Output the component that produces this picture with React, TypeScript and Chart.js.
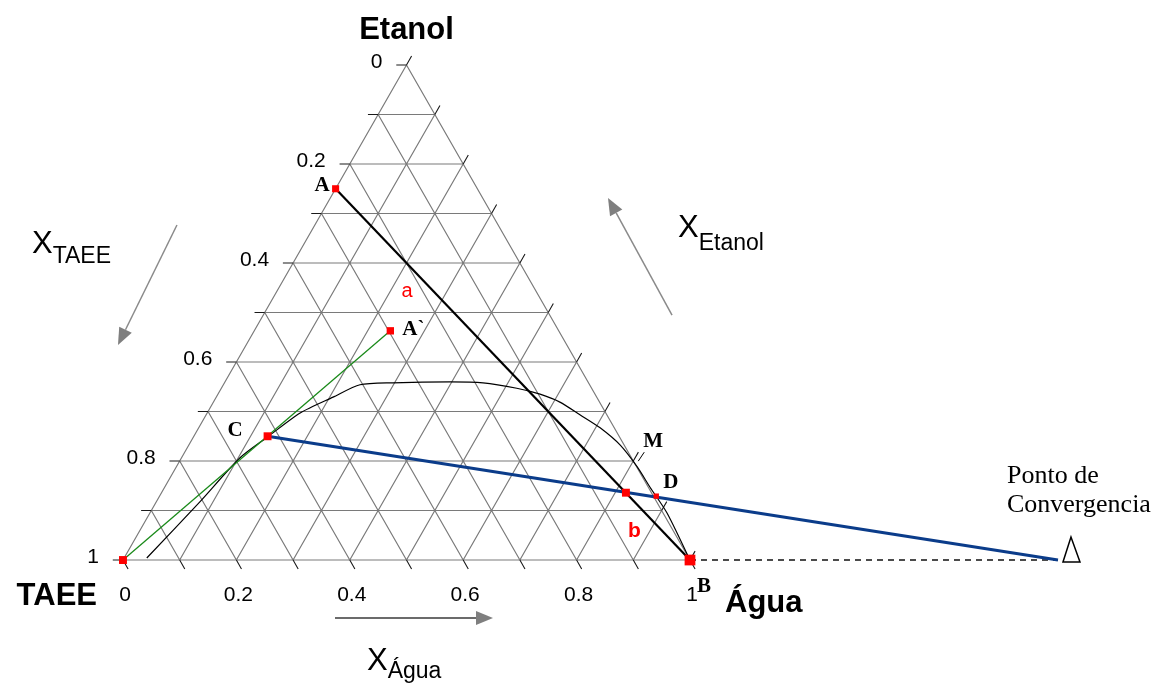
import React, { useEffect, useRef } from "react";
import { Chart, registerables } from "chart.js";

Chart.register(...registerables);

// ---- data (compositions: xÁgua, xEtanol; xTAEE = 1 - xÁgua - xEtanol) ----
const gridFractions = [0, 0.1, 0.2, 0.3, 0.4, 0.5, 0.6, 0.7, 0.8, 0.9, 1];
const tickLabelValues = [0, 0.2, 0.4, 0.6, 0.8, 1];
const tickLabelTexts = ["0", "0.2", "0.4", "0.6", "0.8", "1"];

const binodalAgua = [0.04, 0.077, 0.103, 0.131, 0.164, 0.206, 0.241, 0.297, 0.397, 0.456, 0.521, 0.568, 0.611, 0.66, 0.708, 0.761, 0.813, 0.856, 0.912, 1.0];
const binodalEtanol = [0.004, 0.118, 0.206, 0.249, 0.297, 0.329, 0.354, 0.358, 0.36, 0.358, 0.347, 0.335, 0.319, 0.293, 0.267, 0.232, 0.188, 0.147, 0.095, 0];

const pointNames = ["TAEE", "A", "A`", "C", "Mix", "D", "B"];
const pointAgua = [0, 0, 0.24, 0.13, 0.819, 0.876, 1];
const pointEtanol = [0, 0.75, 0.463, 0.25, 0.136, 0.129, 0];

const convergenceAgua = 1.649;
const convergenceEtanol = 0;

const vertexNames = ["TAEE", "Água", "Etanol"];
const axisTitleSubs = ["TAEE", "Etanol", "Água"];

// ---- helpers ----
const T = (w: number, e: number) => ({ x: w + e / 2, y: e });
const GAP = { x: NaN, y: NaN };
const TICK = 0.018;

function segs(list: Array<[{ x: number; y: number }, { x: number; y: number }]>) {
  const out: any[] = [];
  list.forEach(([a, b]) => {
    out.push(a, b, GAP);
  });
  return out;
}

const P = (name: string) => {
  const i = pointNames.indexOf(name);
  return T(pointAgua[i], pointEtanol[i]);
};

const X_MIN = -0.2169;
const X_MAX = 1.8254;
const Y_MIN = -0.2545;
const Y_MAX = 1.1313;

const SANS = '"Liberation Sans", Arial, sans-serif';
const SERIF = '"Liberation Serif", "Times New Roman", serif';

const textPlugin = {
  id: "ternaryText",
  afterDatasetsDraw(chart: any) {
    const ctx: CanvasRenderingContext2D = chart.ctx;
    const xs = chart.scales.x;
    const ys = chart.scales.y;
    const px = (pt: { x: number; y: number }) => [xs.getPixelForValue(pt.x), ys.getPixelForValue(pt.y)];
    const text = (s: string, x: number, y: number, font: string, color: string, align: CanvasTextAlign = "left") => {
      ctx.font = font;
      ctx.fillStyle = color;
      ctx.textAlign = align;
      ctx.textBaseline = "alphabetic";
      ctx.fillText(s, x, y);
    };
    ctx.save();

    // tick labels on left edge (TAEE scale, 0 at apex)
    tickLabelValues.forEach((v, i) => {
      const [x, y] = px(T(0, 1 - v));
      text(tickLabelTexts[i], x - 24, y + 3, `21px ${SANS}`, "#000", "right");
    });
    // tick labels on bottom (Água scale)
    tickLabelValues.forEach((v, i) => {
      const [x, y] = px(T(v, 0));
      text(tickLabelTexts[i], x + 2, y + 41, `21px ${SANS}`, "#000", "center");
    });

    // vertex names
    const [lx, ly] = px(T(0, 0));
    text(vertexNames[0], lx - 26, ly + 45, `bold 31px ${SANS}`, "#000", "right");
    const [rx, ry] = px(T(1, 0));
    text(vertexNames[1], rx + 35, ry + 52, `bold 31px ${SANS}`, "#000", "left");
    const [tx, ty] = px(T(0, 1));
    text(vertexNames[2], tx, ty - 26, `bold 31px ${SANS}`, "#000", "center");

    // point letters
    const lf = `bold 21px ${SERIF}`;
    const [ax, ay] = px(P("A"));
    text("A", ax - 21, ay + 2, lf, "#000");
    const [a2x, a2y] = px(P("A`"));
    text("A`", a2x + 12, a2y + 4, lf, "#000");
    const [cx, cy] = px(P("C"));
    text("C", cx - 40, cy, lf, "#000");
    const [dx, dy] = px(P("D"));
    text("D", dx + 7, dy - 8, lf, "#000");
    text("M", dx - 13, dy - 49, lf, "#000");
    const [bx, by] = px(P("B"));
    text("B", bx + 7, by + 32, lf, "#000");
    text("a", ax + 66, ay + 108, `20px ${SANS}`, "#ff0000");
    text("b", bx - 62, by - 23, `bold 21px ${SANS}`, "#ff0000");

    // small pointer from M to curve
    ctx.strokeStyle = "#000";
    ctx.lineWidth = 1;
    ctx.beginPath();
    ctx.moveTo(dx - 12, dy - 44);
    ctx.lineTo(dx - 18, dy - 35);
    ctx.stroke();

    // convergence point
    const [vx, vy] = px(T(convergenceAgua, convergenceEtanol));
    text("Ponto de", vx - 51, vy - 77, `26px ${SERIF}`, "#000");
    text("Convergencia", vx - 51, vy - 48, `26px ${SERIF}`, "#000");
    ctx.strokeStyle = "#000";
    ctx.lineWidth = 1.5;
    ctx.beginPath();
    ctx.moveTo(vx + 5, vy + 2);
    ctx.lineTo(vx + 13, vy - 23);
    ctx.lineTo(vx + 22, vy + 2);
    ctx.closePath();
    ctx.stroke();

    // axis titles X_sub
    const title = (sub: string, pos: { x: number; y: number }, subDy: number) => {
      const [x, y] = px(pos);
      text("X", x, y, `31px ${SANS}`, "#000");
      ctx.font = `31px ${SANS}`;
      const w = ctx.measureText("X").width;
      text(sub, x + w, y + subDy, `23px ${SANS}`, "#000");
    };
    title(axisTitleSubs[0], { x: -0.1605, y: 0.6202 }, 10);
    title(axisTitleSubs[1], { x: 0.9788, y: 0.6525 }, 13);
    title(axisTitleSubs[2], { x: 0.4303, y: -0.2222 }, 8);

    // arrows
    const arrow = (from: { x: number; y: number }, to: { x: number; y: number }, lineColor: string) => {
      const [x0, y0] = px(from);
      const [x1, y1] = px(to);
      const ang = Math.atan2(y1 - y0, x1 - x0);
      const len = 17;
      const hw = 7;
      const bxp = x1 - len * Math.cos(ang);
      const byp = y1 - len * Math.sin(ang);
      ctx.strokeStyle = lineColor;
      ctx.lineWidth = 1.5;
      ctx.beginPath();
      ctx.moveTo(x0, y0);
      ctx.lineTo(bxp, byp);
      ctx.stroke();
      ctx.fillStyle = "#7f7f7f";
      ctx.beginPath();
      ctx.moveTo(x1, y1);
      ctx.lineTo(bxp + hw * Math.sin(ang), byp - hw * Math.cos(ang));
      ctx.lineTo(bxp - hw * Math.sin(ang), byp + hw * Math.cos(ang));
      ctx.closePath();
      ctx.fill();
    };
    arrow({ x: 0.0952, y: 0.6768 }, { x: -0.0088, y: 0.4343 }, "#8a8a8a");
    arrow({ x: 0.9683, y: 0.4949 }, { x: 0.8554, y: 0.7313 }, "#8a8a8a");
    arrow({ x: 0.3739, y: -0.1172 }, { x: 0.6526, y: -0.1172 }, "#3a3a3a");

    ctx.restore();
  },
};

export default function App() {
  const ref = useRef<HTMLCanvasElement | null>(null);

  useEffect(() => {
    if (!ref.current) return;
    const base = gridFractions.slice(0, 10);

    const gridData = segs([
      ...base.map((e) => [T(0, e), T(1 - e, e)] as any),
      ...base.map((w) => [T(w, 0), T(w, 1 - w)] as any),
      ...base.map((t) => [T(0, 1 - t), T(1 - t, 0)] as any),
    ]);
    const tickData = segs([
      ...gridFractions.map((e) => [T(-TICK, e), T(0, e)] as any),
      ...gridFractions.map((w) => [T(w, 1 - w), T(w, 1 - w + TICK)] as any),
      ...gridFractions.map((t) => [T(1 - t, 0), T(1 - t + TICK, -TICK)] as any),
    ]);
    const binodal = binodalAgua.map((w, i) => T(w, binodalEtanol[i]));
    const conv = T(convergenceAgua, convergenceEtanol);

    const radius: Record<string, number> = { TAEE: 5.6, A: 5, "A`": 5.2, C: 5.6, Mix: 5.6, D: 3.8, B: 7.6 };

    const line = (data: any[], color: string, width: number, order: number, extra: any = {}) => ({
      type: "scatter",
      data,
      showLine: true,
      spanGaps: false,
      borderColor: color,
      borderWidth: width,
      pointRadius: 0,
      pointHoverRadius: 0,
      fill: false,
      order,
      ...extra,
    });

    const chart = new Chart(ref.current, {
      type: "scatter",
      data: {
        datasets: [
          line(gridData, "#7a7a7a", 1.2, 10),
          line(tickData, "#1a1a1a", 1.1, 9),
          line(binodal, "#000", 1.2, 6, { tension: 0.25 }),
          line([P("A"), P("B")], "#000", 2.2, 5),
          line([P("TAEE"), P("A`")], "#1a8a1a", 1.3, 5),
          line([P("B"), conv], "#111", 1.6, 5, { borderDash: [6, 5] }),
          line([P("C"), conv], "#0b3c8a", 3.2, 4),
          {
            type: "scatter",
            data: pointNames.map((n) => P(n)),
            pointStyle: "rect",
            pointRadius: pointNames.map((n) => radius[n]),
            pointHoverRadius: pointNames.map((n) => radius[n]),
            backgroundColor: "#ff0000",
            borderColor: "#ff0000",
            borderWidth: 0,
            showLine: false,
            order: 0,
          },
        ] as any,
      },
      options: {
        responsive: false,
        maintainAspectRatio: false,
        animation: false,
        devicePixelRatio: 1,
        events: [],
        layout: { padding: 0, autoPadding: false },
        plugins: { legend: { display: false }, tooltip: { enabled: false } },
        scales: {
          x: { type: "linear", min: X_MIN, max: X_MAX, display: false },
          y: { type: "linear", min: Y_MIN, max: Y_MAX, display: false },
        },
      },
      plugins: [textPlugin],
    } as any);

    return () => chart.destroy();
  }, []);

  return (
    <div style={{ position: "absolute", left: 0, top: 0, width: 1158, height: 686, background: "#fff" }}>
      <canvas ref={ref} width={1158} height={686} style={{ width: 1158, height: 686, display: "block" }} />
    </div>
  );
}
